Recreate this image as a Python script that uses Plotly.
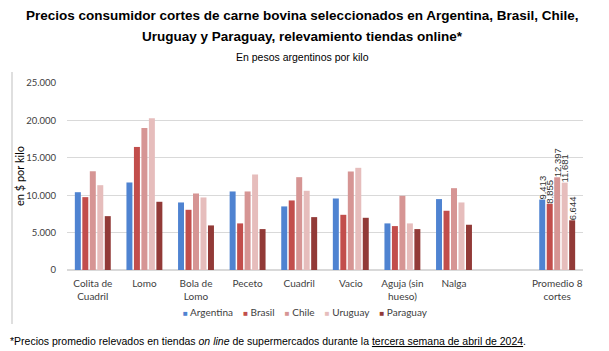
import plotly.graph_objects as go

categories = ["Colita de<br>Cuadril", "Lomo", "Bola de<br>Lomo", "Peceto", "Cuadril", "Vacio",
              "Aguja (sin<br>hueso)", "Nalga", " ", "Promedio 8<br>cortes"]

argentina = [10400, 11700, 9030, 10500, 8500, 9560, 6230, 9480, None, 9413]
brasil    = [9740, 16450, 8050, 6230, 9300, 7380, 5870, 7920, None, 8855]
chile     = [13200, 19000, 10230, 10500, 12410, 13170, 9920, 10940, None, 12397]
uruguay   = [11340, 20280, 9700, 12770, 10590, 13660, 6230, 9030, None, 11681]
paraguay  = [7200, 9120, 5960, 5470, 7070, 6980, 5470, 6050, None, 6644]

series = [("Argentina", argentina, "#4F83D1"),
          ("Brasil", brasil, "#C24E4C"),
          ("Chile", chile, "#D69594"),
          ("Uruguay", uruguay, "#E6BDBC"),
          ("Paraguay", paraguay, "#923A37")]

def fmt(v):
    return f"{v:,}".replace(",", ".")

fig = go.Figure()
for name, vals, color in series:
    texts = [fmt(v) if (c.startswith("Promedio") and v is not None) else "" for c, v in zip(categories, vals)]
    fig.add_trace(go.Bar(
        name=name, x=categories, y=vals, marker_color=color, marker_line_width=0,
        text=texts, textposition="outside", textangle=-90, constraintext="none",
        cliponaxis=False, textfont=dict(family="Liberation Sans", size=9.5, color="#333333"),
        showlegend=False,
    ))

fig.update_layout(
    width=609, height=351,
    margin=dict(l=67, r=26, t=83, b=81),
    paper_bgcolor="white", plot_bgcolor="white",
    barmode="group", bargap=0.275, bargroupgap=0.2,
    separators=",.",
    font=dict(family="Lato", size=10, color="#404040"),
)
fig.update_xaxes(type="category", showgrid=False, showline=False, ticks="",
                 ticklabelstandoff=6,
                 tickfont=dict(family="Lato", size=10, color="#404040"))
fig.update_yaxes(range=[0, 25000], dtick=5000, tickformat=",d", showgrid=True,
                 gridcolor="#D9D9D9", gridwidth=1, zeroline=True, zerolinecolor="#D9D9D9",
                 showline=False, ticks="", ticklabelstandoff=10,
                 tickfont=dict(family="Lato", size=9.5, color="#404040"))

anns = [
    dict(text="<b>Precios consumidor cortes de carne bovina seleccionados en Argentina, Brasil, Chile,</b>",
         x=0.5, y=15, font=dict(family="Liberation Sans", size=13.5, color="#000000")),
    dict(text="<b>Uruguay y Paraguay, relevamiento tiendas online*</b>",
         x=0.5, y=37, font=dict(family="Liberation Sans", size=13.5, color="#000000")),
    dict(text="En pesos argentinos por kilo",
         x=0.5, y=57, font=dict(family="Liberation Sans", size=10.5, color="#000000")),
]
for a in anns:
    fig.add_annotation(text=a["text"], xref="paper", yref="paper", x=(302 - 67) / 516,
                       y=(270 - a["y"]) / 187, xanchor="center", yanchor="middle",
                       showarrow=False, font=a["font"])

fig.add_annotation(text="en $ por kilo", textangle=-90, xref="paper", yref="paper",
                   x=(19 - 67) / 516, y=(270 - 176) / 187, xanchor="center", yanchor="middle",
                   showarrow=False, font=dict(family="Lato", size=11, color="#000000"))

# legend built as text (compact spacing like the original)
sq = "<span style='font-size:8px;color:{c}'>■</span>"
legend_text = "&nbsp;&nbsp;&nbsp;&nbsp;".join(
    sq.format(c=color) + "&nbsp;" + name for name, _, color in series)
fig.add_annotation(text=legend_text, xref="paper", yref="paper", x=(305 - 67) / 516,
                   y=(270 - 312) / 187, xanchor="center", yanchor="middle", showarrow=False,
                   font=dict(family="Lato", size=10, color="#404040"))

fig.add_annotation(
    text="*Precios promedio relevados en tiendas <i>on line</i> de supermercados durante la "
         "<span style='text-decoration:underline'>tercera semana de abril de 2024</span>.",
    xref="paper", yref="paper", x=(8 - 67) / 516, y=(270 - 341) / 187,
    xanchor="left", yanchor="middle", showarrow=False,
    font=dict(family="Liberation Sans", size=10.5, color="#000000"))

fig.add_shape(type="line", xref="paper", yref="paper",
              x0=(12 - 67) / 516, x1=(12 - 67) / 516, y0=(270 - 72) / 187, y1=(270 - 324) / 187,
              line=dict(color="#BFBFBF", width=1))

fig.write_html("out.html")
